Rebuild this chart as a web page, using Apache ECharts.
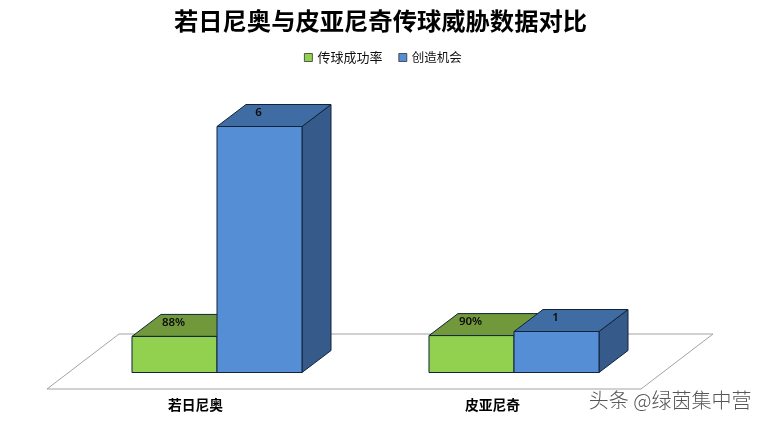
<!DOCTYPE html>
<html><head><meta charset="utf-8">
<style>html,body{margin:0;padding:0;background:#fff}#c{width:764px;height:423px}</style>
<script src="https://cdn.jsdelivr.net/npm/echarts@6/dist/echarts.min.js"></script>
</head><body><div id="c"></div>
<script>
const categories = ['若日尼奥', '皮亚尼奇'];
const passRate = [0.88, 0.90];
const chances = [6, 1];
const seriesNames = ['传球成功率', '创造机会'];
const titleText = '若日尼奥与皮亚尼奇传球威胁数据对比';
const watermarkText = '头条 @绿茵集中营';

const FLOOR_D = [72, -55];
const BAR_D = [29, -22];
const BAR_OFFSET = [21.5, -16.5];
const EDGE = '#10233a';

function box(side, fill, top, right, fmt) {
  return function (params, api) {
    const i = api.value(0), v = api.value(1);
    const base = api.coord([i, 0]);
    const tip = api.coord([i, v]);
    const w = api.size([1, 0])[0] * 0.2862;
    const x0 = base[0] + BAR_OFFSET[0] + (side < 0 ? -w : 0);
    const x1 = x0 + w;
    const yb = base[1] + BAR_OFFSET[1];
    const yt = tip[1] + BAR_OFFSET[1];
    const dx = BAR_D[0], dy = BAR_D[1];
    const poly = (pts, color) => ({
      type: 'polygon', shape: { points: pts },
      style: { fill: color, stroke: EDGE, lineWidth: 1, lineJoin: 'round' }
    });
    return {
      type: 'group',
      children: [
        poly([[x1, yt], [x1 + dx, yt + dy], [x1 + dx, yb + dy], [x1, yb]], right),
        poly([[x0, yt], [x0 + dx, yt + dy], [x1 + dx, yt + dy], [x1, yt]], top),
        poly([[x0, yt], [x1, yt], [x1, yb], [x0, yb]], fill),
        {
          type: 'text', x: (x0 + x1) / 2 - 1, y: yt - 13.5,
          style: {
            text: fmt(v), fill: '#0b0b0b', align: 'center', verticalAlign: 'middle',
            font: '600 11.5px "Noto Sans", sans-serif'
          }
        }
      ]
    };
  };
}

function floor(params) {
  const c = params.coordSys;
  const yb = c.y + c.height, x0 = c.x, x1 = c.x + c.width;
  return {
    type: 'polygon',
    shape: { points: [[x0, yb], [x1, yb], [x1 + FLOOR_D[0], yb + FLOOR_D[1]], [x0 + FLOOR_D[0], yb + FLOOR_D[1]]] },
    style: { fill: '#fff', stroke: '#a3a3a3', lineWidth: 1 }
  };
}

const chart = echarts.init(document.getElementById('c'), null, { renderer: 'canvas' });
chart.setOption({
  animation: false,
  backgroundColor: '#fff',
  title: {
    text: titleText, left: 375.5, top: 4, textAlign: 'center',
    textStyle: { fontFamily: '"Noto Sans CJK SC"', fontSize: 24.3, fontWeight: 'bold', color: '#000' }
  },
  legend: {
    data: [seriesNames[0], { name: seriesNames[1], textStyle: { fontSize: 12.5 } }],
    top: 46, left: 299, itemWidth: 8, itemHeight: 8, itemGap: 16,
    icon: 'rect', selectedMode: false,
    itemStyle: { borderColor: '#333', borderWidth: 0.8 },
    textStyle: { fontFamily: '"Noto Sans CJK SC"', fontSize: 13, color: '#111' }
  },
  grid: { left: 47, width: 594, top: 143, height: 246 },
  xAxis: {
    type: 'category', data: categories,
    axisLine: { show: false }, axisTick: { show: false },
    axisLabel: { margin: 9, fontFamily: '"Noto Sans CJK SC"', fontSize: 13.8, fontWeight: 'bold', color: '#000' }
  },
  yAxis: { type: 'value', min: 0, max: 6, show: false, splitLine: { show: false } },
  series: [
    { type: 'custom', name: '_floor', silent: true, z: 1, data: [[0, 0]], renderItem: floor, clip: false },
    {
      type: 'custom', name: seriesNames[0], z: 2, clip: false,
      itemStyle: { color: '#92D050' },
      encode: { x: 0, y: 1 },
      data: passRate.map((v, i) => [i, v]),
      renderItem: box(-1, '#92D050', '#71993C', '#587A30', v => Math.round(v * 100) + '%')
    },
    {
      type: 'custom', name: seriesNames[1], z: 3, clip: false,
      itemStyle: { color: '#558ED5' },
      encode: { x: 0, y: 1 },
      data: chances.map((v, i) => [i, v]),
      renderItem: box(1, '#558ED5', '#3F6CA3', '#365B8B', v => String(v))
    }
  ],
  graphic: [{
    type: 'text', right: 12, top: 390, z: 10,
    style: { text: watermarkText, font: '300 20px "Noto Sans CJK SC"', fill: '#565656', stroke: '#fff', lineWidth: 1.2 }
  }]
});
</script></body></html>
